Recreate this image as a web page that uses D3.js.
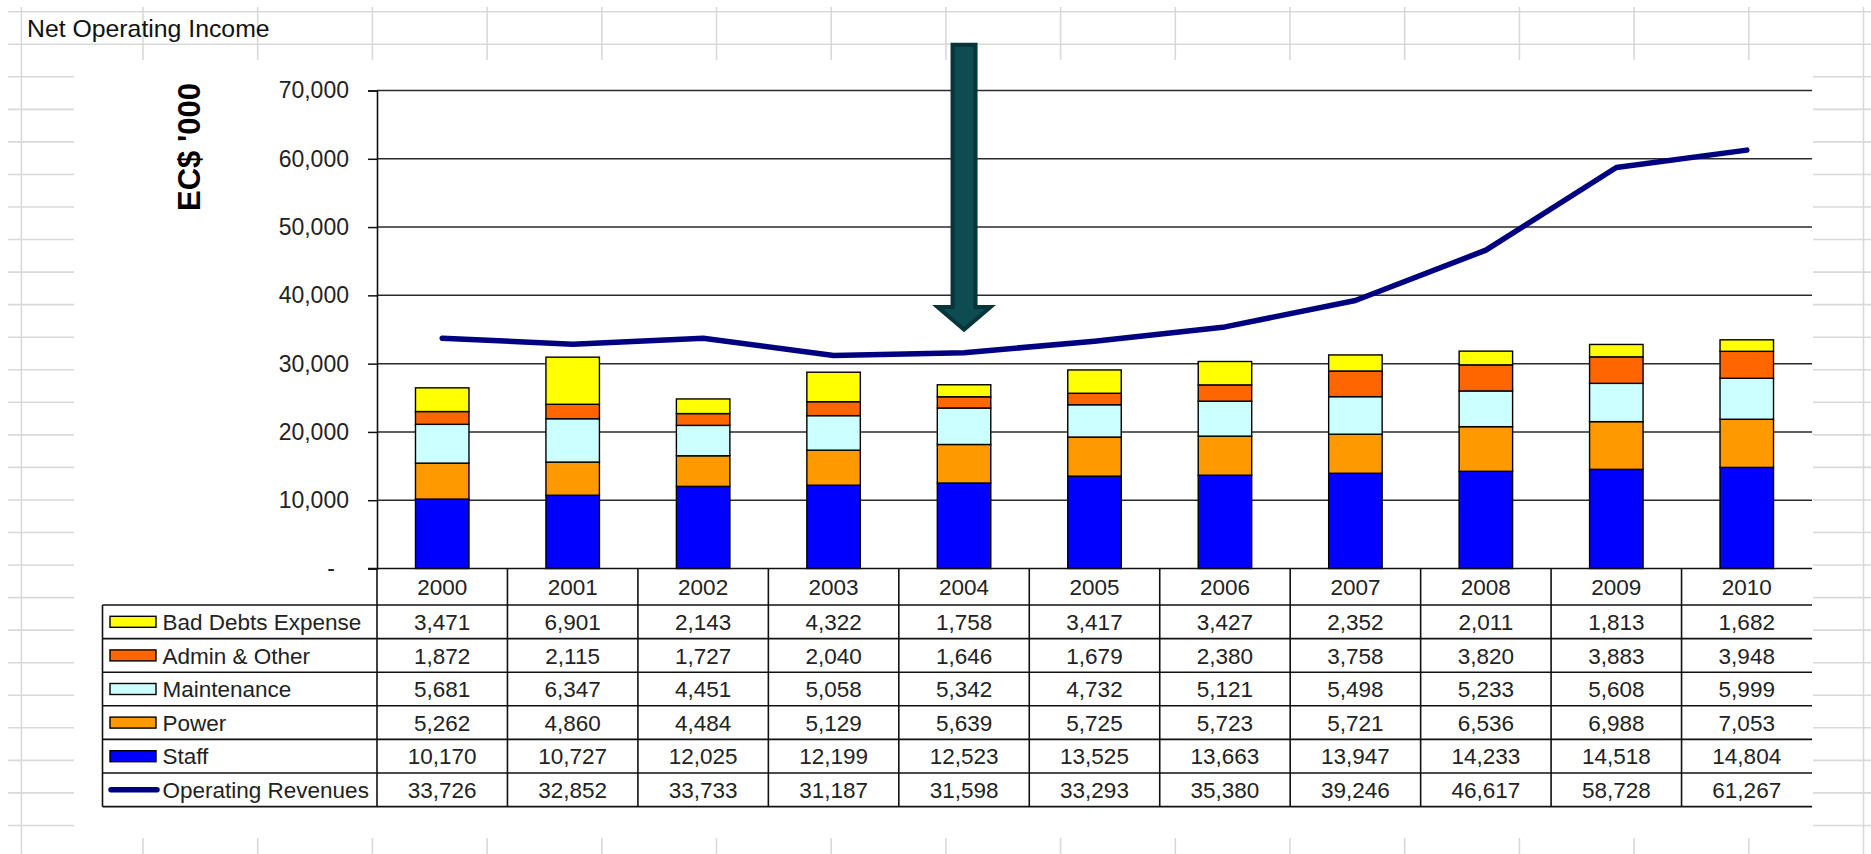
<!DOCTYPE html>
<html><head><meta charset="utf-8">
<script src="https://cdn.jsdelivr.net/npm/d3@7"></script>
<style>
html,body{margin:0;padding:0;background:#fff;}
svg{display:block;font-family:"Liberation Sans",Arial,Helvetica,sans-serif;}
</style>
</head><body>
<svg id="chart" width="1871" height="854"></svg>
<script>
// ---- data ----
const years = ["2000","2001","2002","2003","2004","2005","2006","2007","2008","2009","2010"];
const badDebts    = [3471,6901,2143,4322,1758,3417,3427,2352,2011,1813,1682];
const adminOther  = [1872,2115,1727,2040,1646,1679,2380,3758,3820,3883,3948];
const maintenance = [5681,6347,4451,5058,5342,4732,5121,5498,5233,5608,5999];
const power       = [5262,4860,4484,5129,5639,5725,5723,5721,6536,6988,7053];
const staff       = [10170,10727,12025,12199,12523,13525,13663,13947,14233,14518,14804];
const revenues    = [33726,32852,33733,31187,31598,33293,35380,39246,46617,58728,61267];
const yTicks = [0,10000,20000,30000,40000,50000,60000,70000];
const stackKeys = ["Staff","Power","Maintenance","Admin & Other","Bad Debts Expense"];
const tableKeys = ["Bad Debts Expense","Admin & Other","Maintenance","Power","Staff","Operating Revenues"];
const chartTitle = "Net Operating Income";
const yTitle = "EC$ '000";
// annotation arrow (year, value at top, value at head base, value at tip)
const arrowYear = "2004";
const arrowTopValue = 76700, arrowHeadValue = 38300, arrowTipValue = 35000;

const seriesValues = {
  "Bad Debts Expense": badDebts, "Admin & Other": adminOther, "Maintenance": maintenance,
  "Power": power, "Staff": staff, "Operating Revenues": revenues
};
const colors = {
  "Bad Debts Expense":"#ffff00","Admin & Other":"#ff6600","Maintenance":"#ccffff",
  "Power":"#ff9900","Staff":"#0000ff","Operating Revenues":"#000080"
};

// ---- layout ----
const W = 1871, H = 854;
const plotL = 377, plotR = 1812, yZero = 568.5, yTop = 90.5;
const headerBottom = 605, rowH = 33.6, tableL = 102.5;
const fmt = d3.format(",");

const svg = d3.select("#chart");

// spreadsheet background grid
const bg = svg.append("g").attr("stroke","#d9d9d9").attr("stroke-width",1.6);
const sheetRows = d3.range(0, 27).map(k => 11.7 + 32.55*k).filter(y => y < H);
const sheetCols = [21.4].concat(d3.range(0, 16).map(k => 143 + 114.7*k)).filter(x => x < W);
bg.selectAll("line.r").data(sheetRows).join("line").attr("class","r")
  .attr("x1",8).attr("x2",W).attr("y1",d=>d).attr("y2",d=>d);
bg.selectAll("line.c").data(sheetCols).join("line").attr("class","c")
  .attr("x1",d=>d).attr("x2",d=>d).attr("y1",7).attr("y2",H);

// title cell text
svg.append("text").attr("x",27).attr("y",37).attr("font-size",24.8).attr("fill","#111")
  .text(chartTitle);

// chart area
svg.append("rect").attr("x",74).attr("y",60).attr("width",1813-74).attr("height",838-60).attr("fill","#fff");

// scales
const x = d3.scaleBand().domain(years).range([plotL, plotR]).paddingInner(0).paddingOuter(0);
const y = d3.scaleLinear().domain([0,70000]).range([yZero, yTop]);
const bw = x.bandwidth();

// gridlines
svg.append("g").selectAll("line").data(yTicks.filter(d=>d>0)).join("line")
  .attr("x1",plotL).attr("x2",plotR).attr("y1",d=>y(d)).attr("y2",d=>y(d))
  .attr("stroke","#2a2a2a").attr("stroke-width",1.5);

// y axis
const yAxis = d3.axisLeft(y).tickValues(yTicks).tickSize(9).tickPadding(19)
  .tickFormat(d => d === 0 ? "-" : fmt(d));
const ya = svg.append("g").attr("transform",`translate(${plotL},0)`).call(yAxis);
ya.select(".domain").attr("stroke","#111").attr("stroke-width",1.6);
ya.selectAll(".tick line").attr("stroke","#111").attr("stroke-width",1.5);
ya.selectAll(".tick text").attr("font-size",23).attr("fill","#222")
  .attr("font-family","'Liberation Sans',Arial,sans-serif")
  .attr("dx", d => d === 0 ? -14 : 0);

// y title
svg.append("text").attr("transform","translate(200,147) rotate(-90)")
  .attr("text-anchor","middle").attr("font-size",31).attr("font-weight","bold").attr("fill","#000")
  .text(yTitle);

// stacked bars
const rows = years.map((yr,i) => {
  const o = {year: yr};
  stackKeys.forEach(k => o[k] = seriesValues[k][i]);
  return o;
});
const stacked = d3.stack().keys(stackKeys)(rows);
const barW = bw*0.41;
svg.append("g").selectAll("g").data(stacked).join("g")
  .attr("fill", d => colors[d.key])
  .selectAll("rect").data(d => d).join("rect")
  .attr("x", d => x(d.data.year) + (bw-barW)/2)
  .attr("width", barW)
  .attr("y", d => y(d[1]))
  .attr("height", d => y(d[0]) - y(d[1]))
  .attr("stroke","#000").attr("stroke-width",1.4);

// revenue line
const line = d3.line().x((d,i) => x(years[i]) + bw/2).y(d => y(d));
svg.append("path").datum(revenues).attr("d", line)
  .attr("fill","none").attr("stroke",colors["Operating Revenues"]).attr("stroke-width",5.5)
  .attr("stroke-linejoin","round").attr("stroke-linecap","round");

// ---- data table ----
const tg = svg.append("g");
const rowTop = i => headerBottom + rowH*i;
const tableBottom = rowTop(tableKeys.length);
const lineStroke = "#111", lineW = 1.6;
// x-axis baseline / table top
tg.append("line").attr("x1",plotL-9).attr("x2",plotR).attr("y1",yZero).attr("y2",yZero)
  .attr("stroke",lineStroke).attr("stroke-width",lineW);
// horizontal row lines
tg.selectAll("line.h").data(d3.range(0, tableKeys.length+1)).join("line").attr("class","h")
  .attr("x1",tableL).attr("x2",plotR).attr("y1",d=>rowTop(d)).attr("y2",d=>rowTop(d))
  .attr("stroke",lineStroke).attr("stroke-width",lineW);
// vertical lines: left of table, and column separators
tg.append("line").attr("x1",tableL).attr("x2",tableL).attr("y1",headerBottom).attr("y2",tableBottom)
  .attr("stroke",lineStroke).attr("stroke-width",lineW);
tg.selectAll("line.v").data(years).join("line").attr("class","v")
  .attr("x1",d=>x(d)).attr("x2",d=>x(d)).attr("y1",yZero).attr("y2",tableBottom)
  .attr("stroke",lineStroke).attr("stroke-width",lineW);
// year headers
tg.selectAll("text.yr").data(years).join("text").attr("class","yr")
  .attr("x",d=>x(d)+bw/2).attr("y",(yZero+headerBottom)/2 + 8.3)
  .attr("text-anchor","middle").attr("font-size",22.5).attr("fill","#222").text(d=>d);
// rows
tableKeys.forEach((k,ri) => {
  const cy = rowTop(ri) + rowH/2;
  if (k === "Operating Revenues") {
    tg.append("line").attr("x1",111).attr("x2",157).attr("y1",cy).attr("y2",cy)
      .attr("stroke",colors[k]).attr("stroke-width",5.5).attr("stroke-linecap","round");
  } else {
    tg.append("rect").attr("x",110).attr("y",cy-5.5).attr("width",46).attr("height",11)
      .attr("fill",colors[k]).attr("stroke","#000").attr("stroke-width",1.4);
  }
  tg.append("text").attr("x",162.5).attr("y",cy+8.2).attr("font-size",22.5).attr("fill","#222").text(k);
  tg.selectAll(null).data(seriesValues[k]).join("text")
    .attr("x",(d,i)=>x(years[i])+bw/2).attr("y",cy+8.2)
    .attr("text-anchor","middle").attr("font-size",22.5).attr("fill","#222")
    .text(d=>fmt(d));
});

// ---- annotation arrow ----
const ax = x(arrowYear) + bw/2;
const shaftHalf = 11.5, headHalf = 26.5;
const yt = y(arrowTopValue), yh = y(arrowHeadValue), yp = y(arrowTipValue);
const arrowPts = [
  [ax-shaftHalf, yt],[ax+shaftHalf, yt],[ax+shaftHalf, yh],[ax+headHalf, yh],
  [ax, yp],[ax-headHalf, yh],[ax-shaftHalf, yh]
];
svg.append("path").attr("d", d3.line()(arrowPts) + "Z")
  .attr("fill","#0e4c52").attr("stroke","#06363a").attr("stroke-width",4)
  .attr("stroke-linejoin","miter");
</script>
</body></html>
